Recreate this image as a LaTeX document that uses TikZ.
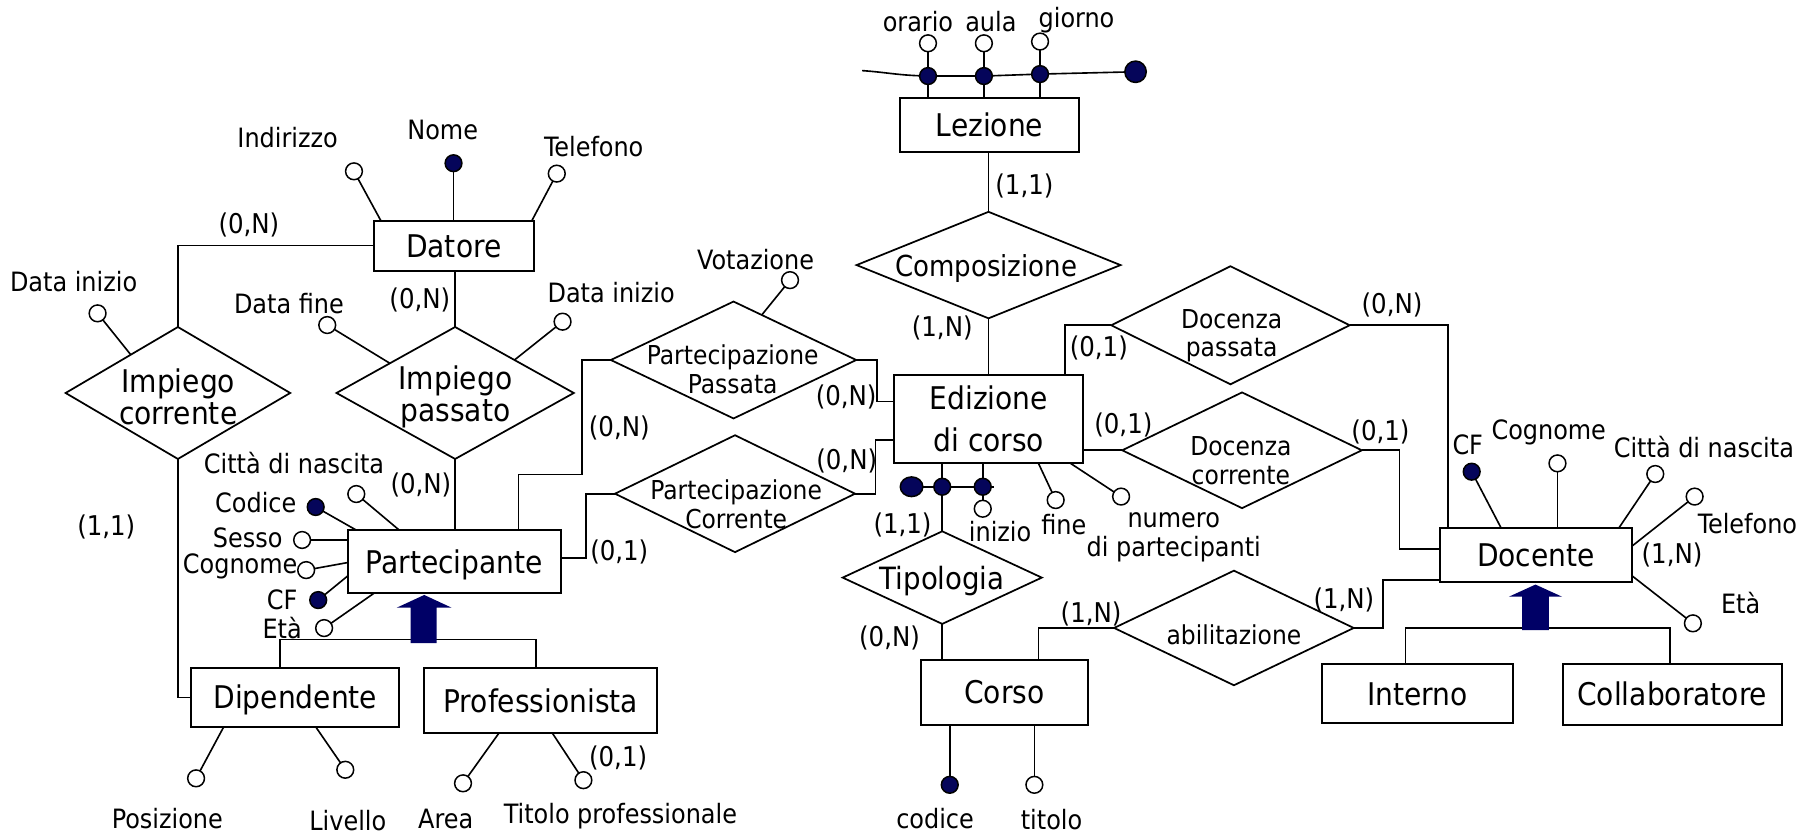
\documentclass[tikz,border=0pt]{standalone}
\usepackage{fontspec}
\setmainfont{DejaVu Sans Condensed}
\usetikzlibrary{shapes.geometric,calc}
\definecolor{isanavy}{RGB}{0,0,102}
\definecolor{keynavy}{RGB}{5,5,90}

\begin{document}
\begin{tikzpicture}[x=1pt,y=-1pt,
  every node/.style={inner sep=0pt, outer sep=0pt},
  link/.style={line width=1.4pt},
  entity/.style={draw, rectangle, line width=1.7pt, font=\fontsize{27}{36}\selectfont, align=center},
  etext/.style={text height=19.7pt, text depth=0pt},
  rel/.style={draw, diamond, line width=1.5pt},
  rellbl/.style={align=center, font=\fontsize{22.5}{25}\selectfont},
  bigrellbl/.style={align=center, font=\fontsize{27}{27.3}\selectfont},
  attr/.style={draw, circle, line width=1.3pt, fill=white, minimum size=14.5pt},
  keyattr/.style={attr, fill=keynavy},
  lbl/.style={font=\fontsize{23}{25}\selectfont, align=center},
  card/.style={font=\fontsize{23.5}{25}\selectfont},
]
\fill[white] (0,0) rectangle (1568,723);
\useasboundingbox (0,0) rectangle (1568,723);

% ---------- entities ----------
\node[entity, etext, minimum width=138pt, minimum height=43.2pt] (datore) at (392,212.2) {Datore};
\node[entity, etext, minimum width=154.3pt, minimum height=46pt] (lezione) at (854.9,108) {Lezione};
\node[entity, etext, minimum width=184.3pt, minimum height=54.6pt] (partecipante) at (392.5,485.3) {Partecipante};
\node[entity, etext, minimum width=179.7pt, minimum height=50.4pt] (dipendente) at (255.1,602.6) {Dipendente};
\node[entity, etext, minimum width=201.5pt, minimum height=56.1pt] (professionista) at (467.2,605.4) {Professionista};
\node[entity, minimum width=163.6pt, minimum height=76pt] (edizione) at (854.2,362) {Edizione\\di corso};
\node[entity, etext, minimum width=144pt, minimum height=56.4pt] (corso) at (867.7,598.2) {Corso};
\node[entity, etext, minimum width=166.2pt, minimum height=46pt] (docente) at (1326.9,479.5) {Docente};
\node[entity, etext, minimum width=164.8pt, minimum height=51.4pt] (interno) at (1224.4,599.3) {Interno};
\node[entity, etext, minimum width=189.1pt, minimum height=53pt] (collaboratore) at (1444.7,600) {Collaboratore};

% ---------- relationships ----------
\node[rel, minimum width=194pt, minimum height=114pt] (ic) at (153.7,339.5) {};
\node[bigrellbl] (iclbl) at (154,343) {Impiego\\corrente};
\node[rel, minimum width=205pt, minimum height=114pt] (ip) at (393.2,339.5) {};
\node[bigrellbl] (iplbl) at (393.5,343) {Impiego\\passato};
\node[rel, minimum width=212pt, minimum height=101pt] (pp) at (633.7,311) {};
\node[rellbl] (pplbl) at (633,319) {Partecipazione\\Passata};
\node[rel, minimum width=207.4pt, minimum height=101pt] (pc) at (635,426.5) {};
\node[rellbl] (pclbl) at (636,436) {Partecipazione\\Corrente};
\node[rel, minimum width=228pt, minimum height=92pt] (comp) at (854,229) {};
\node[font=\fontsize{25}{25}\selectfont] (complbl) at (852,232) {Composizione};
\node[rel, minimum width=206pt, minimum height=102pt] (dp) at (1063,281) {};
\node[rellbl] (dplbl) at (1064,290) {Docenza\\passata};
\node[rel, minimum width=207pt, minimum height=100pt] (dc) at (1073,389) {};
\node[rellbl] (dclbl) at (1072,398) {Docenza\\corrente};
\node[rel, minimum width=172pt, minimum height=80pt] (tip) at (814,499) {};
\node[font=\fontsize{26.5}{26.5}\selectfont] (tiplbl) at (814,502) {Tipologia};
\node[rel, minimum width=207pt, minimum height=99pt] (abil) at (1066,542.5) {};
\node[rellbl] (abillbl) at (1066,548) {abilitazione};

% ---------- connectors with cardinalities ----------
\draw[link] (datore.west) -| (ic.north);
\node[card] (c1) at (215,194.4) {(0,N)};
\draw[link] (ip.north) -- (ip.north |- datore.south);
\node[card] (c2) at (362.7,259) {(0,N)};
\draw[link] (ic.south) |- (dipendente.west);
\node[card] (c3) at (91.8,455) {(1,1)};
\draw[link] (ip.south) -- (ip.south |- partecipante.north);
\node[card] (c4) at (363.6,419) {(0,N)};
\draw[link] (pp.west) -| (503,410) -| ($(partecipante.north)+(55.5,0)$);
\node[card] (c5) at (535,370) {(0,N)};
\draw[link] (pp.east) -| ($(edizione.west)+(-14.8,-15)$) -- ($(edizione.west)+(0,-15)$);
\node[card] (c6) at (731,342.7) {(0,N)};
\draw[link] ($(partecipante.east)+(0,-3)$) -| ($(pc.west)+(-25,0)$) -- (pc.west);
\node[card] (c7) at (535,476.6) {(0,1)};
\draw[link] (pc.east) -| ($(edizione.west)+(-16,18)$) -- ($(edizione.west)+(0,18)$);
\node[card] (c8) at (731.5,398) {(0,N)};
\draw[link] (comp.north) -- (comp.north |- lezione.south);
\node[card] (c9) at (885,161) {(1,1)};
\draw[link] (comp.south) -- (comp.south |- edizione.north);
\node[card] (c10) at (814,283.6) {(1,N)};
\draw[link] (dp.west) -| ($(edizione.north east)+(-16,0)$);
\node[card] (c11) at (949.3,301) {(0,1)};
\draw[link] (dp.east) -| ($(docente.north west)+(7.2,0)$);
\node[card] (c12) at (1202.6,263.5) {(0,N)};
\draw[link] (dc.west -| edizione.east) -- (dc.west);
\node[card] (c13) at (970.5,367) {(0,1)};
\draw[link] (dc.east) -| ($(docente.west)+(-34.8,-5)$) -- ($(docente.west)+(0,-5)$);
\node[card] (c14) at (1192.6,373) {(0,1)};
\node[card] (c15) at (779.7,453.6) {(1,1)};
\draw[link] (tip.south) -- (tip.south |- corso.north);
\node[card] (c16) at (768.5,551.5) {(0,N)};
\draw[link] (abil.west) -| ($(corso.north)+(29.3,0)$);
\node[card] (c17) at (942.6,530) {(1,N)};
\draw[link] (abil.east) -| ($(docente.south west)+(-49.2,-1.5)$) -- ($(docente.south west)+(0,-1.5)$);
\node[card] (c18) at (1161,518.4) {(1,N)};

% ---------- generalisations ----------
\draw[link] ($(dipendente.north)+(-13.4,0)$) |- ($(professionista.north)+(-4.4,-25)$) -- ($(professionista.north)+(-4.4,0)$);
\fill[isanavy] (354.8,555.5) -- (354.8,525) -- (342.7,525) -- (366.5,514) -- (390.2,525) -- (377.3,525) -- (377.3,555.5) -- cycle;
\draw[link] ($(interno.north)+(-10.1,0)$) |- ($(collaboratore.north)+(-1.9,-30.8)$) -- ($(collaboratore.north)+(-1.9,0)$);
\fill[isanavy] (1315,544.3) -- (1315,515.5) -- (1303.5,515.5) -- (1326.5,505) -- (1349.5,515.5) -- (1338,515.5) -- (1338,544.3) -- cycle;

% ---------- attributes of Datore ----------
\node[attr] (dind) at (305.8,148) {};
\draw[link] (dind) -- ($(datore.north west)+(6,0)$);
\node[keyattr] (dnome) at (391.8,141) {};
\draw[link] (dnome) -- (dnome |- datore.north);
\node[attr] (dtel) at (481,150) {};
\draw[link] (dtel) -- ($(datore.north east)+(-1.5,0)$);
\node[lbl] (ldind) at (248.5,119) {Indirizzo};
\node[lbl] (ldnome) at (382.5,112.3) {Nome};
\node[lbl] (ldtel) at (513,127) {Telefono};

% ---------- attributes of the employment relationships ----------
\node[attr] (icdi) at (84.3,270.7) {};
\draw[link] (icdi) -- ($(ic.north)!0.42!(ic.west)$);
\node[lbl] (licdi) at (63.6,243) {Data inizio};
\node[attr] (ipdf) at (282.7,280.8) {};
\draw[link] (ipdf) -- ($(ip.north)!0.55!(ip.west)$);
\node[lbl] (lipdf) at (249.6,262) {Data fine};
\node[attr] (ipdi) at (486,277.9) {};
\draw[link] (ipdi) -- ($(ip.north)!0.5!(ip.east)$);
\node[lbl] (lipdi) at (528,253) {Data inizio};
\node[attr] (ppvot) at (682.5,242) {};
\draw[link] (ppvot) -- ($(pp.north)!0.23!(pp.east)$);
\node[lbl] (lppvot) at (652.8,224.6) {Votazione};

% ---------- attributes of Partecipante ----------
\node[attr] (pcitta) at (307.8,426.8) {};
\draw[link] (pcitta) -- ($(partecipante.north west)+(44.6,0)$);
\node[keyattr] (pcod) at (272.7,438) {};
\draw[link] (pcod) -- ($(partecipante.north west)+(7.5,0)$);
\node[attr] (psesso) at (261,466.5) {};
\draw[link] (psesso) -- (psesso -| partecipante.west);
\node[attr] (pcogn) at (264.5,492.5) {};
\draw[link] (pcogn) -- ($(partecipante.north west)+(0,28)$);
\node[keyattr] (pcf) at (274.9,518.4) {};
\draw[link] (pcf) -- ($(partecipante.north west)+(0,39.6)$);
\node[attr] (peta) at (280,542.6) {};
\draw[link] (peta) -- ($(partecipante.south west)+(22.6,0)$);
\node[lbl] (lpcitta) at (254,400) {Città di nascita};
\node[lbl] (lpcod) at (221,434) {Codice};
\node[lbl] (lpsesso) at (214,465) {Sesso};
\node[lbl] (lpcogn) at (207.5,489.6) {Cognome};
\node[lbl] (lpcf) at (243.8,518) {CF};
\node[lbl] (lpeta) at (243.8,542.8) {Età};

% ---------- attributes of Dipendente and Professionista ----------
\node[attr] (dpos) at (169.4,672.4) {};
\draw[link] (dpos) -- ($(dipendente.south west)+(28.1,0)$);
\node[attr] (dliv) at (298.3,665) {};
\draw[link] (dliv) -- ($(dipendente.south west)+(107.4,0)$);
\node[attr] (parea) at (400,676.7) {};
\draw[link] (parea) -- ($(professionista.south west)+(64.5,0)$);
\node[attr] (ptit) at (504,674) {};
\draw[link] (ptit) -- ($(professionista.south west)+(110.8,0)$);
\node[lbl] (ldpos) at (144.6,706.8) {Posizione};
\node[lbl] (ldliv) at (300.5,709) {Livello};
\node[lbl] (lparea) at (385,707.5) {Area};
\node[lbl] (lptit) at (536,705.5) {Titolo professionale};
\node[card] (c19) at (534,655) {(0,1)};

% ---------- attributes and identifier of Lezione ----------
\node[attr] (lorc) at (801.7,37.4) {};
\node[attr] (lauc) at (850,37.4) {};
\node[attr] (lgic) at (898.5,35.9) {};
\coordinate (lzstart) at (744.8,61);
\node[keyattr] (lord) at (801.7,65.7) {};
\node[keyattr] (laud) at (850,65.7) {};
\node[keyattr] (lgid) at (898.5,64) {};
\node[keyattr, minimum size=18.5pt] (lzbig) at (981,62) {};
\draw[link] (lorc) -- (lord); \draw[link] (lord) -- (lord |- lezione.north);
\draw[link] (lauc) -- (laud); \draw[link] (laud) -- (laud |- lezione.north);
\draw[link] (lgic) -- (lgid); \draw[link] (lgid) -- (lgid |- lezione.north);
\draw[link] (lzstart) to[out=-4,in=178] (lord);
\draw[link] (lord) -- (laud) -- (lgid) -- (lzbig);
\node[lbl] (llor) at (793,18.7) {orario};
\node[lbl] (llau) at (856,18.7) {aula};
\node[lbl] (llgi) at (930,17.3) {giorno};

% ---------- attributes and identifier of Edizione di corso ----------
\node[keyattr, ellipse, minimum width=19.5pt, minimum height=17pt] (ebig) at (787.5,420.5) {};
\node[keyattr] (ed1) at (814,420.5) {};
\node[keyattr] (ed2) at (849,420.5) {};
\coordinate (eend) at (859,420.5);
\node[attr] (einizio) at (849,439.5) {};
\draw[link] (ebig) -- (ed1) -- (ed2) -- (eend);
\draw[link] (tip.north |- edizione.south) -- (ed1);
\draw[link] (ed1) -- (tip.north);
\draw[link] (ed2 |- edizione.south) -- (ed2);
\draw[link] (ed2) -- (einizio);
\node[attr] (efine) at (912,432) {};
\draw[link] (efine) -- ($(edizione.south west)+(124.6,0)$);
\node[attr] (enum) at (968.5,429) {};
\draw[link] (enum) -- ($(edizione.south west)+(152,0)$);
\node[lbl] (leinizio) at (864,459) {inizio};
\node[lbl] (lefine) at (919,453.6) {fine};
\node[lbl] (lenum) at (1014,464) {numero\\di partecipanti};

% ---------- attributes of Corso ----------
\node[keyattr] (ccod) at (820.5,678) {};
\draw[link] (ccod) -- (ccod |- corso.south);
\node[attr] (ctit) at (893.6,678) {};
\draw[link] (ctit) -- (ctit |- corso.south);
\node[lbl] (lccod) at (807.8,707) {codice};
\node[lbl] (lctit) at (908.4,708) {titolo};

% ---------- attributes of Docente ----------
\node[keyattr] (dcf) at (1271.4,407.5) {};
\draw[link] (dcf) -- ($(docente.north west)+(53.2,0)$);
\node[attr] (dcogn) at (1345.5,400.3) {};
\draw[link] (dcogn) -- (dcogn |- docente.north);
\node[attr] (dcitta) at (1430,409.5) {};
\draw[link] (dcitta) -- ($(docente.north west)+(154.5,0)$);
\node[attr] (dtelef) at (1464,429) {};
\draw[link] (dtelef) -- ($(docente.north east)+(0,15.2)$);
\node[attr] (deta) at (1462.5,538.5) {};
\draw[link] (deta) -- ($(docente.north east)+(0,41)$);
\node[lbl] (ldcf) at (1268,384.5) {CF};
\node[lbl] (ldcogn) at (1338,373.8) {Cognome};
\node[lbl] (ldcitta) at (1472,386) {Città di nascita};
\node[lbl] (ldtelef) at (1509.7,452) {Telefono};
\node[card] (c20) at (1444.5,479.5) {(1,N)};
\node[lbl] (ldeta) at (1503.8,521) {Età};
\end{tikzpicture}
\end{document}
